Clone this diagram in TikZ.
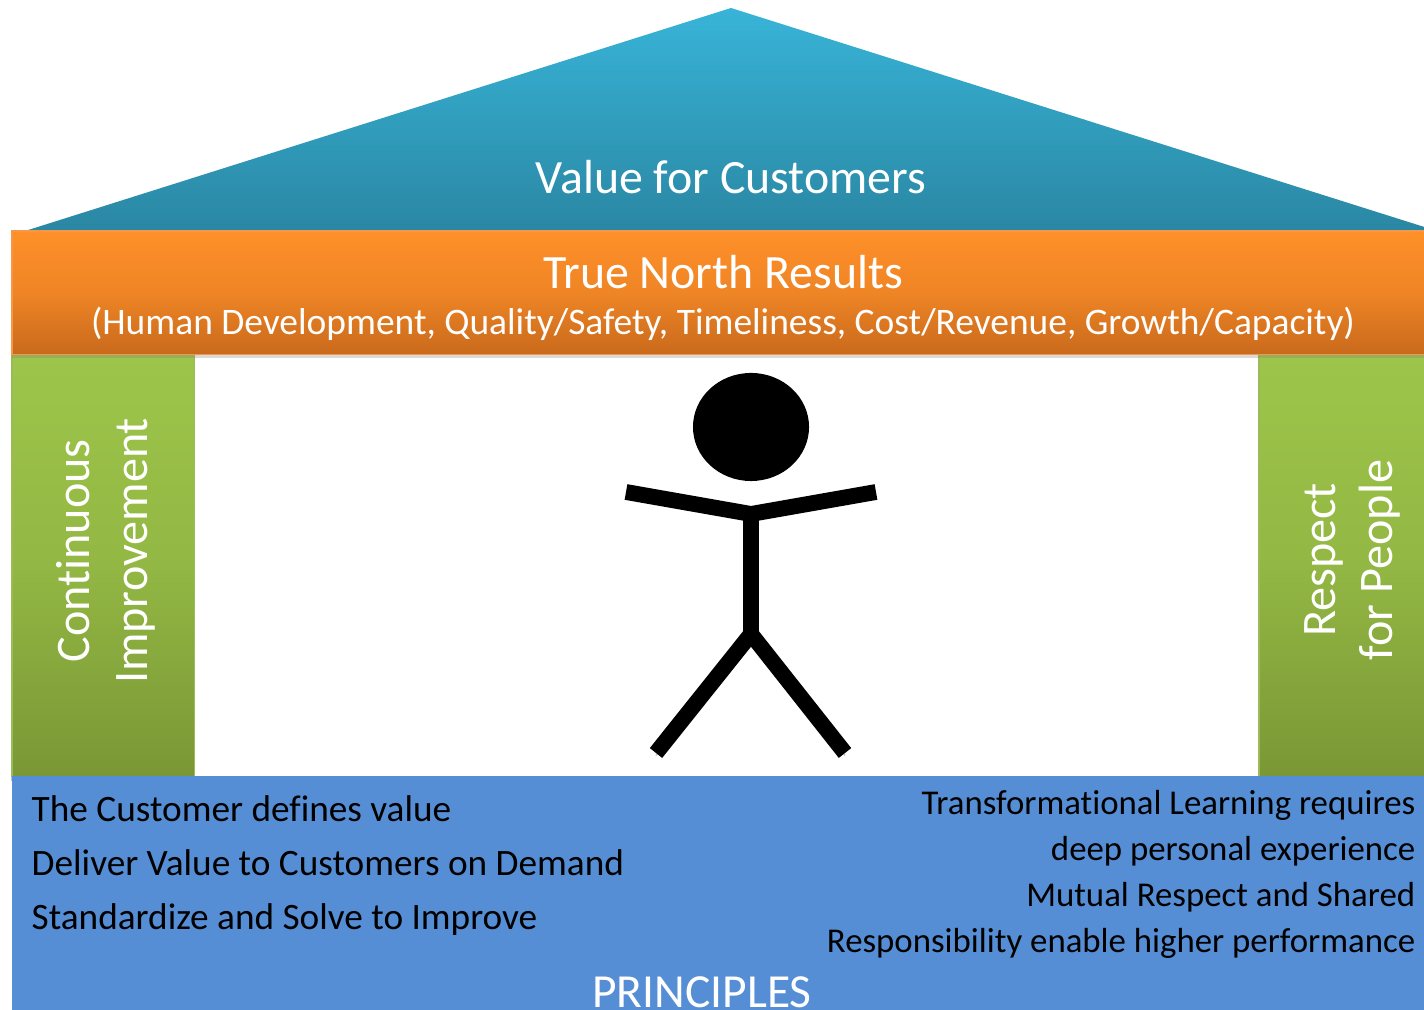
\documentclass[tikz,border=0pt]{standalone}
\usepackage{fontspec}
\setmainfont{Carlito}[Ligatures=NoCommon]
\usetikzlibrary{positioning,shadows,shapes}

\definecolor{roofTop}{HTML}{38B4D8}
\definecolor{roofBot}{HTML}{2A87A3}
\definecolor{barTop}{HTML}{FF9029}
\definecolor{barBot}{HTML}{C96A1C}
\definecolor{barEdge}{HTML}{F79646}
\definecolor{pillarTop}{HTML}{9DC54A}
\definecolor{pillarBot}{HTML}{7A9735}
\definecolor{pillarEdge}{HTML}{9BBB59}
\definecolor{baseBlue}{HTML}{558ED5}

\begin{document}
\begin{tikzpicture}[x=0.01cm, y=-0.01cm]
    \tikzstyle{softshadow} = [general shadow={shadow scale=1.012, shadow yshift=-0.5pt, fill=black, opacity=0.25}]
    \tikzstyle{bar} = [rectangle, draw=barEdge, line width=0.3pt, top color=barTop, bottom color=barBot, middle color=barTop!70!barBot, text=white, inner sep=0pt, outer sep=0pt, minimum width=14.2cm, minimum height=1.23cm, drop shadow={shadow xshift=0pt, shadow yshift=-1pt, opacity=0.3}]
    \tikzstyle{pillar} = [rectangle, draw=pillarEdge, line width=0.3pt, top color=pillarTop, bottom color=pillarBot, middle color=pillarTop!70!pillarBot, text=white, inner sep=0pt, outer sep=0pt, minimum height=4.22cm, softshadow]
    \tikzstyle{base} = [rectangle, fill=baseBlue, inner sep=0pt, outer sep=0pt, minimum width=14.12cm, minimum height=2.34cm]
    \tikzstyle{limb} = [line width=4.5pt, black, preaction={draw, black!22, transform canvas={yshift=-0.7pt}}]

    \useasboundingbox (0,0) rectangle (1424,1010);

    % Roof
    \shade[top color=roofTop, bottom color=roofBot] (731,8) -- (1437,231) -- (25,231) -- cycle;
    \node[text=white, font=\fontsize{13.6}{15}\selectfont] (roof) at (731,177) {Value for Customers};

    % Pillars sit below the bar
    \coordinate (barcorner) at (12,231);
    \node[pillar, minimum width=1.82cm, anchor=north west] (left) at (12,354) {};
    \node[pillar, minimum width=1.75cm, anchor=north west] (right) at (1259,354) {};
    \node[text=white, rotate=90, align=center, font=\fontsize{13.7}{16.5}\selectfont] (lefttext) at (106,551) {Continuous\\Improvement};
    \node[text=white, rotate=90, align=center, font=\fontsize{13.7}{16.2}\selectfont] (righttext) at (1352,560) {Respect\\for People};

    % True North bar
    \node[bar, anchor=north west] (bar) at (barcorner) {};
    \node[text=white, font=\fontsize{13.6}{15}\selectfont] (north) at (723,272) {True North Results};
    \node[text=white, font=\fontsize{10.65}{12}\selectfont] (results) at (723,324) {(Human Development, Quality/Safety, Timeliness, Cost/Revenue, Growth/Capacity)};

    % Stick figure
    \node[ellipse, fill=black, inner sep=0pt, minimum width=1.16cm, minimum height=1.08cm] (head) at (751,427) {};
    \coordinate (neck) at (751,514);
    \coordinate (hip) at (751,634);
    \coordinate (handL) at (626,492);
    \coordinate (handR) at (876,492);
    \coordinate (footL) at (656,753);
    \coordinate (footR) at (845,753);
    \draw[limb] (neck) -- (hip);
    \draw[limb] (footL) -- (hip) -- (footR);
    \draw[limb] (handL) -- (neck) -- (handR);

    % Principles
    \node[base, anchor=north west] (principles) at (12,776) {};
    \node[anchor=north west, inner sep=0pt, align=left, font=\fontsize{10.6}{15.35}\selectfont] (lefttxt) at (31,795) {The Customer defines value\\Deliver Value to Customers on Demand\\Standardize and Solve to Improve};
    \node[anchor=north east, inner sep=0pt, align=right, font=\fontsize{9.9}{13}\selectfont] (righttxt) at (1416,790) {Transformational Learning requires\\deep personal experience\\Mutual Respect and Shared\\Responsibility enable higher performance};
    \node[text=white, inner sep=0pt, font=\fontsize{13.5}{15}\selectfont] (ptitle) at (702,992) {PRINCIPLES};
\end{tikzpicture}
\end{document}
